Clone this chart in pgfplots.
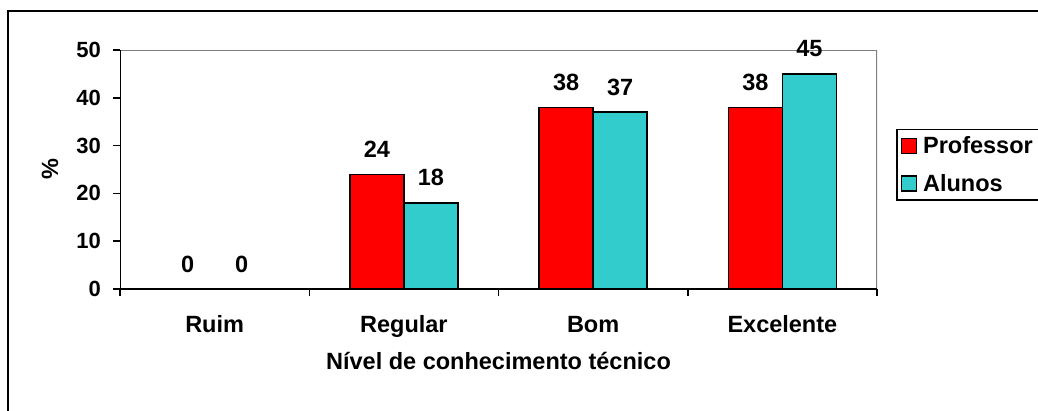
\documentclass[border=0pt]{standalone}
\usepackage{pgfplots}
\pgfplotsset{compat=1.18}
\usepackage{fontspec}
\setmainfont{Liberation Sans}
\definecolor{profred}{HTML}{FF0000}
\definecolor{alucyan}{HTML}{33CCCC}
\definecolor{boxgray}{HTML}{808080}
\newcommand\cf{\fontsize{22}{26}\selectfont\bfseries}
\newcommand\cfb{\fontsize{23.5}{28}\selectfont\bfseries}
\begin{document}
\begin{tikzpicture}[x=1pt,y=1pt]
\useasboundingbox (0,0) rectangle (1038,410);
% outer chart frame
\draw[line width=2pt] (8,-10) -- (8,399) -- (1050,399);
\begin{axis}[
  at={(120pt,121pt)}, anchor=south west,
  scale only axis, width=757pt, height=239pt,
  ybar=0pt, bar width=54pt,
  xmin=-0.5, xmax=3.5, ymin=0, ymax=50,
  ytick={0,10,...,50},
  xtick={0,1,2,3},
  xticklabels={Ruim,Regular,Bom,Excelente},
  extra x ticks={-0.5,0.5,1.5,2.5,3.5},
  extra x tick labels={},
  tick align=outside, major tick length=7pt,
  xtick style={draw=none},
  extra x tick style={xtick style={draw=black, line width=1.5pt}},
  ytick pos=left, xtick pos=bottom,
  ytick style={black, line width=1.5pt},
  axis line style={draw=none},
  /pgf/number format/assume math mode=true,
  tick label style={font=\cf, inner sep=0pt},
  xticklabel style={font=\cfb, anchor=base, yshift=-36pt},
  yticklabel style={anchor=east, xshift=-12pt},
  xlabel={Nível de conhecimento técnico},
  ylabel={\%},
  xlabel style={font=\cfb, inner sep=0pt, at={(axis description cs:0.5,0)}, anchor=base, yshift=-80pt},
  ylabel style={font=\cfb, inner sep=0pt, at={(axis description cs:-0.0925,0.5)}, anchor=center},
  nodes near coords,
  every node near coord/.append style={font=\cfb, anchor=base, yshift=17pt, inner sep=0pt, black},
  legend style={font=\cfb, at={(rel axis cs:1.0251,0.6695)}, anchor=north west,
    draw=black, line width=1.5pt, inner xsep=4pt, inner ysep=5pt, row sep=15pt},
  legend cell align=left,
  legend image code/.code={%
    \draw[#1, line width=1.2pt] (0pt,-7.5pt) rectangle (15pt,7.5pt);
    \path (19pt,0pt);},
]
\addplot[fill=profred, draw=black, line width=1.5pt] coordinates {(0,0) (1,24) (2,38) (3,38)};
\addplot[fill=alucyan, draw=black, line width=1.5pt] coordinates {(0,0) (1,18) (2,37) (3,45)};
\legend{Professor,Alunos}
% plot-area border: gray top and right, black left and bottom
\draw[boxgray, line width=1.5pt] (rel axis cs:0,1) -- (rel axis cs:1,1) -- (rel axis cs:1,0);
\draw[black, line width=2pt] (rel axis cs:0,1) -- (rel axis cs:0,0) -- (rel axis cs:1,0);
\end{axis}
\end{tikzpicture}
\end{document}
